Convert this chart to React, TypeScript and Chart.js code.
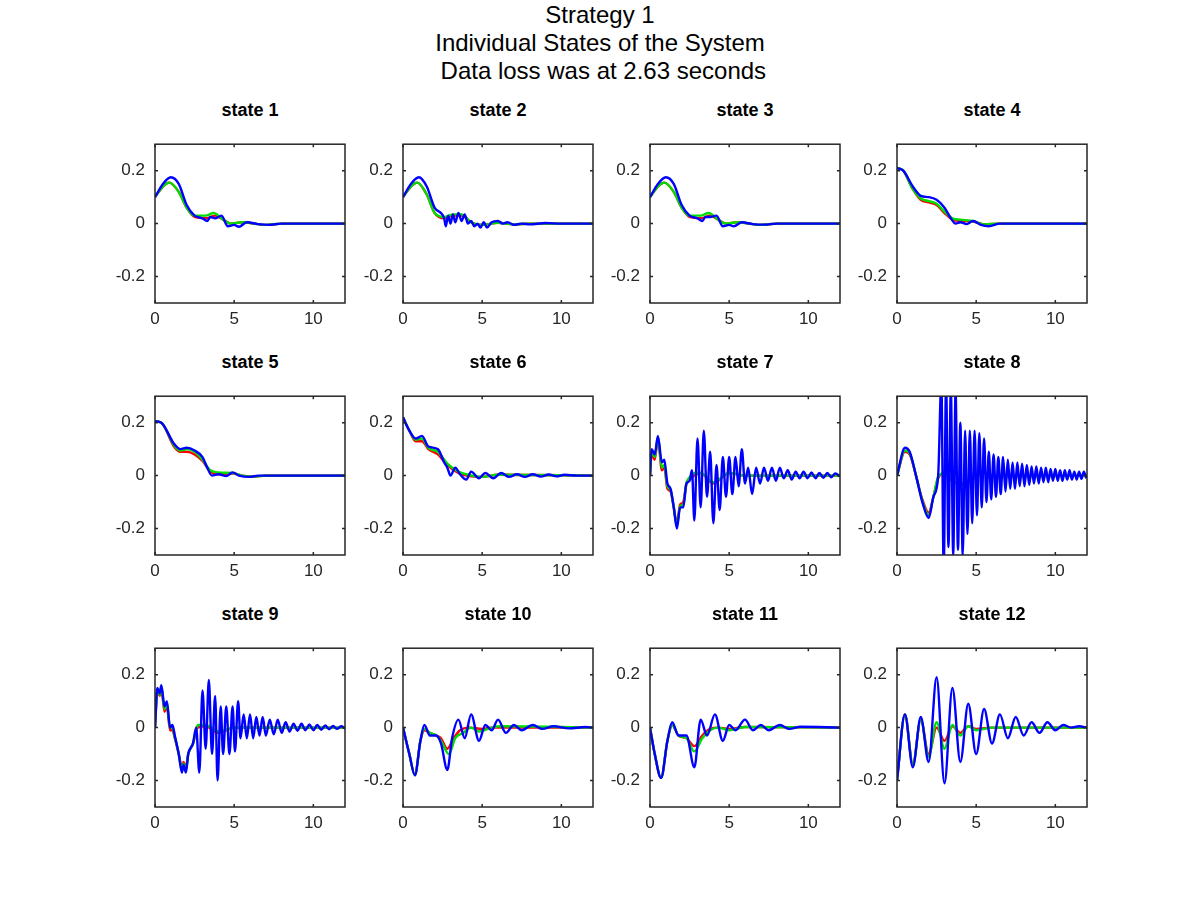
import React, { useEffect, useRef } from "react";
import { Chart, registerables } from "chart.js";
Chart.register(...registerables);

type P = number[][];
const titles = ["Strategy 1", "Individual States of the System", " Data loss was at 2.63 seconds"];
const stateNames = ["state 1","state 2","state 3","state 4","state 5","state 6","state 7","state 8","state 9","state 10","state 11","state 12"];
const xTicks = [0, 5, 10];
const yTicks = [-0.2, 0, 0.2];

const s1B: P = [[0,0.1],[0.5,0.15],[1,0.175],[1.5,0.15],[2,0.07],[2.5,0.03],[3,0.02],[3.3,0.01],[3.5,0.025],[3.8,0.02],[4.2,0.03],[4.6,-0.01],[5,-0.005],[5.3,-0.012],[5.8,0.005],[6.5,-0.002],[7.2,-0.005],[8,0],[12,0]];
const s1R: P = [[0,0.1],[0.5,0.14],[0.9,0.155],[1.5,0.12],[2,0.06],[2.5,0.025],[3.2,0.02],[3.8,0.03],[4.3,0.015],[4.8,0],[5.5,0.005],[7,-0.005],[8,0],[12,0]];
const s1G: P = [[0,0.1],[0.5,0.14],[0.9,0.155],[1.5,0.12],[2,0.06],[2.5,0.03],[3.2,0.03],[3.7,0.04],[4.3,0.015],[4.8,0],[5.5,0.005],[7,-0.005],[8,0],[12,0]];
const s2B: P = [[0,0.1],[0.5,0.15],[1,0.175],[1.5,0.14],[2,0.06],[2.6,0.02],[2.7,-0.01],[2.85,0.03],[3,0],[3.15,0.035],[3.3,0.005],[3.5,0.04],[3.7,0.01],[3.9,0.035],[4.1,0],[4.3,0.01],[4.5,-0.01],[4.7,0],[4.9,-0.015],[5.1,0.005],[5.3,-0.015],[5.6,0.005],[6,0.01],[6.3,0],[6.6,0.005],[7,-0.005],[7.5,0],[8,-0.003],[9,0.002],[10,0],[12,0]];
const s2R: P = [[0,0.1],[0.5,0.14],[0.9,0.155],[1.5,0.11],[2,0.04],[2.6,0.02],[3.2,0.03],[3.7,0.03],[4.3,0.005],[5,-0.005],[6,0.003],[7,-0.003],[8,0],[12,0]];
const s2G: P = [[0,0.1],[0.5,0.14],[0.9,0.155],[1.5,0.11],[2,0.04],[2.6,0.025],[3.2,0.035],[3.7,0.035],[4.3,0.005],[5,-0.005],[6,0.003],[7,-0.003],[8,0],[12,0]];
const s3B: P = [[0,0.1],[0.5,0.15],[1,0.175],[1.5,0.15],[2,0.07],[2.5,0.03],[3,0.02],[3.3,0.01],[3.5,0.025],[3.8,0.025],[4.2,0.03],[4.6,-0.01],[5,-0.005],[5.3,-0.01],[5.8,0.005],[6.5,-0.002],[7.2,-0.004],[8,0],[12,0]];
const s3R: P = [[0,0.1],[0.5,0.14],[0.9,0.155],[1.5,0.12],[2,0.06],[2.5,0.025],[3.2,0.02],[3.8,0.03],[4.3,0.015],[4.8,0],[5.5,0.005],[7,-0.005],[8,0],[12,0]];
const s3G: P = [[0,0.1],[0.5,0.14],[0.9,0.155],[1.5,0.12],[2,0.06],[2.5,0.03],[3.2,0.03],[3.7,0.04],[4.3,0.015],[4.8,0],[5.5,0.005],[7,-0.005],[8,0],[12,0]];
const s4B: P = [[0,0.21],[0.4,0.2],[1,0.14],[1.5,0.105],[2,0.1],[2.5,0.09],[3,0.06],[3.4,0.02],[3.7,0],[4,0.005],[4.4,-0.002],[4.8,0.01],[5.3,-0.005],[5.8,-0.01],[6.5,0],[8,0],[12,0]];
const s4R: P = [[0,0.21],[0.4,0.2],[1,0.13],[1.5,0.09],[2,0.08],[2.5,0.07],[3,0.04],[3.5,0.015],[4,0.01],[4.8,0.008],[5.5,-0.003],[6.5,0],[12,0]];
const s4G: P = [[0,0.21],[0.4,0.2],[1,0.13],[1.5,0.095],[2,0.085],[2.5,0.075],[3,0.045],[3.5,0.02],[4,0.015],[4.8,0.01],[5.5,-0.003],[6.5,0],[12,0]];
const s5B: P = [[0,0.205],[0.4,0.2],[1.2,0.12],[1.6,0.1],[2,0.105],[2.5,0.095],[3,0.07],[3.3,0.03],[3.6,0],[4,0.005],[4.5,-0.002],[4.9,0.012],[5.3,0],[6,-0.005],[6.5,0],[12,0]];
const s5R: P = [[0,0.205],[0.4,0.2],[1.2,0.11],[1.6,0.09],[2,0.09],[2.5,0.08],[3,0.055],[3.5,0.015],[4,0.005],[4.9,0.008],[5.5,0],[6.2,-0.004],[7,0],[12,0]];
const s5G: P = [[0,0.205],[0.4,0.2],[1.2,0.115],[1.6,0.095],[2,0.1],[2.5,0.09],[3,0.06],[3.5,0.02],[4,0.012],[4.9,0.01],[5.5,0],[6.2,-0.004],[7,0],[12,0]];
const s6B: P = [[0,0.22],[0.4,0.17],[0.8,0.14],[1.2,0.15],[1.6,0.11],[2.2,0.1],[2.6,0.05],[2.8,0.03],[3,0],[3.3,0.03],[3.6,0.005],[4,-0.015],[4.3,0.015],[4.8,-0.01],[5.2,0.01],[5.7,-0.01],[6.2,0.01],[6.7,-0.005],[7.2,0.005],[7.7,-0.005],[8.2,0.005],[8.7,-0.004],[9.2,0.004],[9.7,-0.003],[10.2,0.003],[11,0],[12,0]];
const s6R: P = [[0,0.22],[0.4,0.17],[0.8,0.13],[1.2,0.13],[1.6,0.1],[2.2,0.08],[2.8,0.04],[3.5,0.01],[4,0],[5,-0.005],[6,0.003],[12,0]];
const s6G: P = [[0,0.22],[0.4,0.17],[0.8,0.135],[1.2,0.14],[1.6,0.105],[2.2,0.09],[2.8,0.045],[3.5,0.015],[4,0.005],[5,-0.005],[6,0.003],[12,0]];
const s7B: P = [[0,0],[0.1,0.1],[0.3,0.08],[0.5,0.15],[0.75,0.05],[0.9,0.06],[1.1,-0.03],[1.3,-0.05],[1.5,-0.12],[1.7,-0.2],[1.9,-0.12],[2.1,-0.12],[2.3,-0.03],[2.5,-0.02],[2.65,0.02],[2.8,-0.17],[3,0.14],[3.2,-0.12],[3.4,0.17],[3.6,-0.08],[3.8,0.09],[4,-0.18],[4.2,0.04],[4.4,-0.13],[4.6,0.07],[4.8,-0.08],[5,0.07],[5.2,-0.07],[5.4,0.07],[5.6,-0.04],[5.8,0.1],[6,-0.03],[6.2,0.03],[6.45,-0.07],[6.7,0.03],[6.95,-0.03],[7.2,0.03],[7.45,-0.02],[7.7,0.03],[7.95,-0.02],[8.2,0.03],[8.45,-0.01],[8.7,0.02],[8.95,-0.015],[9.2,0.015],[9.45,-0.01],[9.7,0.015],[9.95,-0.01],[10.2,0.012],[10.45,-0.01],[10.7,0.01],[10.95,-0.008],[11.2,0.01],[11.45,-0.006],[11.7,0.008],[12,-0.003]];
const s7R: P = [[0,0],[0.1,0.08],[0.3,0.06],[0.5,0.14],[0.75,0.02],[0.9,0.03],[1.1,-0.05],[1.3,-0.06],[1.5,-0.12],[1.7,-0.18],[1.9,-0.11],[2.1,-0.1],[2.3,-0.03],[2.6,-0.01],[2.8,0],[3.2,0.01],[4,-0.03],[5,0.01],[6,0],[8,0],[12,0]];
const s7G: P = [[0,0],[0.1,0.09],[0.3,0.07],[0.5,0.145],[0.75,0.03],[0.9,0.04],[1.1,-0.04],[1.3,-0.055],[1.5,-0.12],[1.7,-0.19],[1.9,-0.115],[2.1,-0.11],[2.3,-0.03],[2.6,0],[2.8,0.01],[3.2,0.01],[4,-0.025],[5,0.01],[6,0],[8,0],[12,0]];
const s8B: P = [[0,0],[0.5,0.105],[0.8,0.09],[1.2,0],[1.6,-0.1],[2,-0.16],[2.3,-0.08],[2.6,0],[2.8,0.35],[2.95,-0.35],[3.1,0.35],[3.25,-0.27],[3.4,0.33],[3.55,-0.3],[3.7,0.32],[3.85,-0.28],[4,0.2],[4.15,-0.3],[4.3,0.17],[4.45,-0.22],[4.6,0.17],[4.75,-0.18],[4.9,0.17],[5.05,-0.15],[5.2,0.16],[5.35,-0.12],[5.5,0.14],[5.65,-0.1],[5.8,0.09],[5.95,-0.09],[6.1,0.08],[6.25,-0.08],[6.4,0.07],[6.55,-0.07],[6.7,0.07],[6.85,-0.06],[7,0.06],[7.15,-0.05],[7.3,0.05],[7.45,-0.05],[7.6,0.05],[7.75,-0.04],[7.9,0.045],[8.05,-0.04],[8.2,0.04],[8.35,-0.035],[8.5,0.035],[8.65,-0.03],[8.8,0.035],[8.95,-0.03],[9.1,0.03],[9.25,-0.025],[9.4,0.03],[9.55,-0.025],[9.7,0.025],[9.85,-0.02],[10,0.025],[10.15,-0.02],[10.3,0.02],[10.45,-0.02],[10.6,0.02],[10.75,-0.015],[10.9,0.02],[11.05,-0.015],[11.2,0.015],[11.35,-0.015],[11.5,0.015],[11.65,-0.012],[11.8,0.015],[11.95,-0.01]];
const s8R: P = [[0,0],[0.5,0.09],[0.8,0.08],[1.2,0],[1.6,-0.09],[2,-0.14],[2.3,-0.08],[2.6,-0.01],[3,0.01],[3.5,-0.02],[4,-0.035],[4.6,-0.02],[5.4,0.01],[6,0],[7,-0.003],[12,0]];
const s8G: P = [[0,0],[0.5,0.095],[0.8,0.085],[1.2,0],[1.6,-0.095],[2,-0.15],[2.3,-0.08],[2.6,-0.005],[3,0.01],[3.5,-0.02],[4,-0.03],[4.6,-0.02],[5.4,0.01],[6,0],[7,-0.003],[12,0]];
const s9B: P = [[0,0],[0.15,0.15],[0.3,0.13],[0.4,0.16],[0.6,0.08],[0.75,0.1],[0.95,0],[1.1,0.01],[1.25,-0.03],[1.5,-0.1],[1.7,-0.17],[1.8,-0.14],[1.95,-0.17],[2.1,-0.1],[2.4,-0.06],[2.6,0],[2.8,-0.17],[3,0.14],[3.2,-0.08],[3.4,0.18],[3.6,-0.1],[3.8,0.12],[3.95,-0.2],[4.15,0.08],[4.3,-0.1],[4.5,0.08],[4.7,-0.1],[4.9,0.08],[5.05,-0.09],[5.25,0.1],[5.4,-0.04],[5.6,0.05],[5.8,-0.04],[6,0.05],[6.2,-0.04],[6.4,0.04],[6.6,-0.03],[6.8,0.04],[7,-0.03],[7.25,0.03],[7.5,-0.025],[7.75,0.03],[8,-0.02],[8.25,0.02],[8.5,-0.015],[8.75,0.015],[9,-0.012],[9.25,0.015],[9.5,-0.01],[9.75,0.012],[10,-0.01],[10.25,0.01],[10.5,-0.008],[10.75,0.008],[11,-0.006],[11.25,0.006],[11.5,-0.005],[11.75,0.005],[12,-0.003]];
const s9R: P = [[0,0],[0.15,0.14],[0.3,0.12],[0.4,0.15],[0.6,0.06],[0.75,0.08],[0.95,-0.01],[1.1,-0.01],[1.25,-0.04],[1.5,-0.1],[1.7,-0.15],[1.8,-0.13],[1.95,-0.15],[2.1,-0.1],[2.4,-0.06],[2.7,0],[3.2,0.005],[4,-0.02],[5,0],[6,0],[12,0]];
const s9G: P = [[0,0],[0.15,0.145],[0.3,0.125],[0.4,0.155],[0.6,0.07],[0.75,0.09],[0.95,0],[1.1,0],[1.25,-0.035],[1.5,-0.1],[1.7,-0.16],[1.8,-0.135],[1.95,-0.16],[2.1,-0.1],[2.4,-0.06],[2.7,0.01],[3.2,0.01],[4,-0.015],[5,0],[6,0],[12,0]];
const s10B: P = [[0,0],[0.4,-0.1],[0.75,-0.18],[1.1,-0.05],[1.35,0.01],[1.7,-0.03],[2.1,-0.03],[2.4,-0.06],[2.8,-0.16],[3.1,-0.04],[3.5,0.03],[3.9,-0.04],[4.3,0.05],[4.8,-0.05],[5.2,0.01],[5.6,-0.01],[6,0.03],[6.5,-0.02],[7,0.01],[7.5,-0.01],[8.2,0.01],[8.8,-0.005],[9.5,0.005],[10.5,-0.003],[11.5,0.002],[12,0]];
const s10R: P = [[0,0],[0.4,-0.1],[0.75,-0.18],[1.1,-0.05],[1.35,-0.01],[1.7,-0.02],[2.1,-0.03],[2.4,-0.04],[2.8,-0.08],[3.2,-0.04],[3.6,-0.01],[4.2,0],[5,-0.005],[5.6,0],[12,0]];
const s10G: P = [[0,0],[0.4,-0.1],[0.75,-0.18],[1.1,-0.05],[1.35,-0.005],[1.7,-0.02],[2.1,-0.03],[2.4,-0.05],[2.9,-0.1],[3.3,-0.04],[3.8,-0.02],[4.3,0],[4.8,-0.015],[5.6,0],[6.2,0.005],[12,0]];
const s11B: P = [[0,0],[0.3,-0.1],[0.7,-0.19],[1.1,-0.05],[1.4,0.02],[1.8,-0.03],[2.3,-0.03],[2.8,-0.15],[3.2,0.03],[3.6,-0.03],[4.1,0.05],[4.6,-0.05],[5,0.01],[5.4,-0.01],[6,0.03],[6.5,-0.01],[7,0.01],[7.5,-0.01],[8.2,0.01],[8.8,-0.005],[9.5,0.003],[12,0]];
const s11R: P = [[0,0],[0.3,-0.1],[0.7,-0.19],[1.1,-0.05],[1.4,0.01],[1.8,-0.03],[2.3,-0.04],[2.8,-0.07],[3.3,-0.03],[3.8,-0.005],[4.3,0],[5,-0.005],[6,0.002],[12,0]];
const s11G: P = [[0,0],[0.3,-0.1],[0.7,-0.19],[1.1,-0.05],[1.4,0.01],[1.8,-0.03],[2.3,-0.04],[2.8,-0.09],[3.3,-0.04],[3.8,-0.01],[4.3,0],[5,-0.01],[6,0.002],[12,0]];
const s12B: P = [[0,-0.2],[0.5,0.05],[1,-0.15],[1.5,0.04],[2,-0.13],[2.5,0.19],[3,-0.21],[3.5,0.15],[4,-0.13],[4.5,0.09],[5,-0.1],[5.5,0.07],[6,-0.06],[6.5,0.05],[7,-0.04],[7.5,0.04],[8,-0.03],[8.5,0.02],[9,-0.02],[9.5,0.02],[10,-0.01],[10.5,0.01],[11,0],[11.5,0.005],[12,0]];
const s12R: P = [[0,-0.2],[0.5,0.05],[1,-0.14],[1.5,0.03],[2,-0.1],[2.5,0],[3,-0.05],[3.5,0.005],[4,-0.02],[4.5,0.005],[5,-0.005],[6,0],[12,0]];
const s12G: P = [[0,-0.2],[0.5,0.05],[1,-0.14],[1.5,0.03],[2,-0.11],[2.5,0.02],[3,-0.08],[3.5,0.01],[4,-0.03],[4.5,0.005],[5,-0.01],[6,0],[12,0]];

const blues = [s1B,s2B,s3B,s4B,s5B,s6B,s7B,s8B,s9B,s10B,s11B,s12B];
const reds = [s1R,s2R,s3R,s4R,s5R,s6R,s7R,s8R,s9R,s10R,s11R,s12R];
const greens = [s1G,s2G,s3G,s4G,s5G,s6G,s7G,s8G,s9G,s10G,s11G,s12G];

const colLefts = [155, 403, 650, 897];
const rowTops = [128, 380, 632];
const PW = 190, PH = 175, LW = 50, TH = 4, XH = 30, RP = 10;

const boxPlugin = {
  id: "box",
  afterDraw(chart: any) {
    const { ctx, chartArea: a, scales } = chart;
    ctx.save();
    ctx.strokeStyle = "#262626";
    ctx.lineWidth = 1.5;
    ctx.strokeRect(a.left, a.top, a.right - a.left, a.bottom - a.top);
    ctx.beginPath();
    for (const t of xTicks) {
      const x = scales.x.getPixelForValue(t);
      ctx.moveTo(x, a.bottom); ctx.lineTo(x, a.bottom - 3);
      ctx.moveTo(x, a.top); ctx.lineTo(x, a.top + 3);
    }
    for (const t of yTicks) {
      const y = scales.y.getPixelForValue(t);
      ctx.moveTo(a.left, y); ctx.lineTo(a.left + 3, y);
      ctx.moveTo(a.right, y); ctx.lineTo(a.right - 3, y);
    }
    ctx.stroke();
    ctx.restore();
  },
};

function Panel({ idx }: { idx: number }) {
  const ref = useRef<HTMLCanvasElement>(null);
  useEffect(() => {
    const mk = (pts: P, color: string) => ({
      data: pts.map(([x, y]) => ({ x, y })),
      borderColor: color,
      borderWidth: 2.4,
      pointRadius: 0,
      cubicInterpolationMode: "monotone" as const,
      fill: false,
    });
    const chart = new Chart(ref.current!, {
      type: "line",
      data: { datasets: [mk(blues[idx], "#0000ff"), mk(greens[idx], "#00dd00"), mk(reds[idx], "#ff0000")] },
      options: {
        animation: false,
        responsive: false,
        maintainAspectRatio: false,
        layout: { padding: { right: RP, top: TH, bottom: 0, left: 0 } },
        plugins: { legend: { display: false }, tooltip: { enabled: false }, title: { display: false } },
        scales: {
          x: {
            type: "linear", min: 0, max: 12,
            grid: { display: false, drawTicks: false },
            border: { display: false },
            afterBuildTicks: (s: any) => { s.ticks = xTicks.map((v) => ({ value: v })); },
            afterFit: (s: any) => { s.height = XH; },
            ticks: { color: "#262626", font: { family: "Liberation Sans", size: 17 }, padding: 6, maxRotation: 0 },
          },
          y: {
            type: "linear", min: -0.3, max: 0.3,
            grid: { display: false, drawTicks: false },
            border: { display: false },
            afterBuildTicks: (s: any) => { s.ticks = yTicks.map((v) => ({ value: v })); },
            afterFit: (s: any) => { s.width = LW; },
            ticks: { color: "#262626", font: { family: "Liberation Sans", size: 17 }, padding: 10, callback: (v: any) => String(Number(v)) },
          },
        },
      },
      plugins: [boxPlugin],
    });
    return () => chart.destroy();
  }, [idx]);
  const r = Math.floor(idx / 4), c = idx % 4;
  return (
    <>
      <div style={{ position: "absolute", left: colLefts[c], width: PW, top: rowTops[r] - 29, textAlign: "center", fontWeight: "bold", fontSize: 18, lineHeight: "22px", color: "#000" }}>{stateNames[idx]}</div>
      <canvas
        ref={ref}
        width={PW + LW + RP}
        height={PH + TH + XH}
        style={{ position: "absolute", left: colLefts[c] - LW, top: rowTops[r] - TH, width: PW + LW + RP, height: PH + TH + XH }}
      />
    </>
  );
}

export default function App() {
  useEffect(() => { document.body.style.margin = "0"; }, []);
  return (
    <div style={{ position: "relative", width: 1200, height: 900, background: "#fff", fontFamily: "Liberation Sans" }}>
      {titles.map((t, i) => (
        <div key={i} style={{ position: "absolute", left: 0, width: 1200, top: 1 + i * 28, textAlign: "center", fontSize: 24, lineHeight: "28px", color: "#000", whiteSpace: "pre" }}>{t}</div>
      ))}
      {stateNames.map((_, i) => <Panel key={i} idx={i} />)}
    </div>
  );
}
